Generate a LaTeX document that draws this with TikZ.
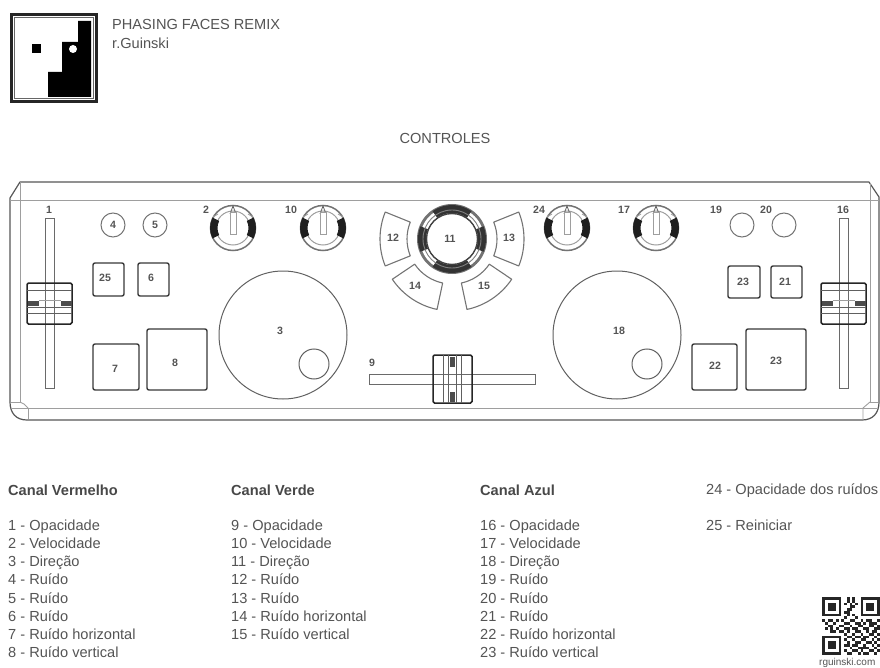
\documentclass[tikz,border=0pt]{standalone}
\usepackage{fontspec}
\setmainfont{Liberation Sans}
\definecolor{ink}{gray}{0.22}
\definecolor{txt}{gray}{0.33}
\definecolor{hair}{gray}{0.62}
\tikzset{
  panelline/.style={draw=ink!85,line width=1.2pt},
  hairline/.style={draw=hair,line width=.9pt},
  part/.style={draw=ink!80,line width=1pt},
  btnbox/.style={draw=ink,line width=1.4pt,rounded corners=2pt},
  num/.style={font=\fontsize{10.6}{12}\selectfont\bfseries,text=txt,inner sep=0pt},
  legend/.style={font=\fontsize{14.6}{16}\selectfont,text=txt,inner sep=0pt,anchor=base west},
  legendh/.style={font=\fontsize{14.6}{16}\selectfont\bfseries,text=txt!85!black,inner sep=0pt,anchor=base west},
  qr/.style={fill=black!85,draw=none}
}
\newcommand{\knobpart}[3]{% x y name
  \begin{scope}[shift={(#1,#2)}]
    \draw[black!55,line width=1.5pt] (0,0) circle (22.5);
    \draw[hair,line width=1pt] (0,0) circle (17);
    \fill[black!88] (153:15.5) arc[start angle=153,end angle=207,radius=15.5] -- (207:23) arc[start angle=207,end angle=153,radius=23] -- cycle;
    \fill[black!88] (-27:15.5) arc[start angle=-27,end angle=27,radius=15.5] -- (27:23) arc[start angle=27,end angle=-27,radius=23] -- cycle;
    \draw[part,line width=.8pt] (-3,-14) -- (0,-22) -- (3,-14);
    \draw[hair,fill=white,line width=1pt] (-3,-15) rectangle (3,7);
    \draw[hair,line width=.9pt] (-15,-14) -- (-20,-11);
    \draw[hair,line width=.9pt] (15,-14) -- (20,-11);
    \node[inner sep=0pt,minimum size=0pt] (#3) at (0,0) {};
  \end{scope}}
\newcommand{\sliderpart}[3]{% x center, name, label
  \draw[hairline,draw=ink!75] (#1-4.5,218) rectangle (#1+4.5,388);
  \begin{scope}[shift={(#1,0)}]
    \draw[draw=black!85,line width=1.5pt,rounded corners=1.5pt] (-22.5,283) rectangle (22.5,324);
    \draw[part] (-22.5,290) -- (22.5,290);
    \draw[part] (-22.5,307) -- (22.5,307);
    \draw[part] (-22.5,313) -- (22.5,313);
    \fill[black!70] (-22,301) rectangle (-11,306);
    \fill[black!70] (11,301) rectangle (22,306);
    \draw[hairline] (-11,300) -- (11,300);
    \node[num] (#2) at (-.5,210) {#3};
  \end{scope}}
\newcommand{\sectorpart}[2]{% start, end
  \draw[hairline,draw=ink!70,line width=1.1pt,line join=round,shift={(452,239)}] (#1:45) arc[start angle=#1,end angle=#2,radius=45] -- (#2:72) arc[start angle=#2,end angle=#1,radius=72] -- cycle;}
\begin{document}
\begin{tikzpicture}[x=1pt,y=1pt,yscale=-1]
\useasboundingbox (0,0) rectangle (880,668);
% logo
\draw[black!85,line width=2.2pt] (11.5,14.5) rectangle (96.5,101.5);
\draw[black!60,line width=.7pt] (14.5,17.5) rectangle (93.5,98.5);
\fill[black] (78,21) -- (91,21) -- (91,97) -- (48,97) -- (48,72) -- (62,72) -- (62,42) -- (78,42) -- cycle;
\fill[black] (32,44) rectangle (41,53);
\fill[white] (73,49) circle (4);
\node[legend] (title) at (112,30) {PHASING FACES REMIX};
\node[legend] (author) at (112,49) {r.Guinski};
\node[font=\fontsize{14.6}{16}\selectfont,text=txt,inner sep=0pt] (ctl) at (445,138) {CONTROLES};
% panel
\draw[panelline,line join=round] (20,182) -- (869,182) -- (879,197) -- (879,402) .. controls (879,413) and (873,420) .. (862,420) -- (27,420) .. controls (16,420) and (10,413) .. (10,402) -- (10,198) -- cycle;
\draw[hairline] (10,200) -- (879,200);
\draw[hairline] (12,408) -- (877,408);
\draw[hairline] (20,182) -- (20,402) -- (11,402);
\draw[hairline] (20,402) .. controls (23,403) and (26,405) .. (28,408);
\draw[hairline] (28,408) -- (28,419);
\draw[hairline] (870,183) -- (870,402);
\draw[hairline] (870,402) .. controls (868,404) and (865,406) .. (863,408) -- (863,419);
\draw[hairline] (870,402) -- (878,402);
% sliders
\sliderpart{49.5}{n1}{1}
\sliderpart{843.5}{n16}{16}
% top row circles
\foreach \n/\x in {c4/113,c5/155,c19/742,c20/784}{\draw[part,draw=ink!70] (\x,225) circle (12);}
\node[num] (n4) at (113,225) {4};
\node[num] (n5) at (155,225) {5};
\node[num] (n19) at (716,210) {19};
\node[num] (n20) at (766,210) {20};
% knobs
\knobpart{233}{228}{k2}
\knobpart{323}{228}{k10}
\knobpart{567}{228}{k24}
\knobpart{656}{228}{k17}
\node[num] (n2) at (206,210) {2};
\node[num] (n10) at (291,210) {10};
\node[num] (n24) at (539,210) {24};
\node[num] (n17) at (624,210) {17};
% buttons
\draw[btnbox] (93,263) rectangle (124,296);
\draw[btnbox] (138,263) rectangle (169,296);
\draw[btnbox] (93,344) rectangle (139,390);
\draw[btnbox] (147,329) rectangle (207,390);
\draw[btnbox] (728,266) rectangle (760,298);
\draw[btnbox] (771,266) rectangle (802,298);
\draw[btnbox] (692,344) rectangle (737,390);
\draw[btnbox] (746,329) rectangle (806,390);
\node[num] (n25) at (105,278) {25};
\node[num] (n6) at (151,278) {6};
\node[num] (n7) at (115,369) {7};
\node[num] (n8) at (175,363) {8};
\node[num] (n23a) at (743,282) {23};
\node[num] (n21) at (785,282) {21};
\node[num] (n22) at (715,366) {22};
\node[num] (n23b) at (776,361) {23};
% jog wheels
\draw[part] (283,335) circle (64);
\draw[part] (314,364) circle (15);
\node[num] (n3) at (280,331) {3};
\draw[part] (617,335) circle (64);
\draw[part] (647,364) circle (15);
\node[num] (n18) at (619,331) {18};
% central knob
\begin{scope}[shift={(452,239)}]
  \fill[black!55] (0,0) circle (35);
  \fill[white] (0,0) circle (32);
  \foreach \a/\b in {235/305,55/125,158/202,-22/22}{
    \fill[black!80] (\a:26) arc[start angle=\a,end angle=\b,radius=26] -- (\b:34) arc[start angle=\b,end angle=\a,radius=34] -- cycle;}
  \draw[black!75,line width=1.4pt] (0,0) circle (25.5);
  \draw[black!50,line width=.9pt] (0,0) circle (29);
\end{scope}
\node[num] (n11) at (450,239) {11};
% sectors
\sectorpart{158}{202}
\sectorpart{-22}{22}
\sectorpart{102}{146}
\sectorpart{34}{78}
\node[num] (n12) at (393,238) {12};
\node[num] (n13) at (509,238) {13};
\node[num] (n14) at (415,286) {14};
\node[num] (n15) at (484,286) {15};
% horizontal slider
\draw[hairline,draw=ink!75] (369,374) rectangle (535,384);
\draw[draw=black!85,line width=1.5pt,rounded corners=1.5pt] (433,355) rectangle (472,403);
\foreach \x in {443,448,456,461}{\draw[part] (\x,355) -- (\x,403);}
\fill[black!70] (450,357) rectangle (455,367);
\fill[black!70] (450,392) rectangle (455,402);
\node[num] (n9) at (372,363) {9};
% legend
\node[legendh] (h1) at (8,495) {Canal Vermelho};
\node[legendh] (h2) at (231,495) {Canal Verde};
\node[legendh] (h3) at (480,495) {Canal Azul};
\node[legend] (l24) at (706,494.5) {24 - Opacidade dos ruídos};
\node[legend] (l25) at (706,530) {25 - Reiniciar};
\foreach \t [count=\i from 0] in {1 - Opacidade,2 - Velocidade,3 - Direção,4 - Ruído,5 - Ruído,6 - Ruído,7 - Ruído horizontal,8 - Ruído vertical}{
  \node[legend] (a\i) at (8,530+18.25*\i) {\t};}
\foreach \t [count=\i from 0] in {9 - Opacidade,10 - Velocidade,11 - Direção,12 - Ruído,13 - Ruído,14 - Ruído horizontal,15 - Ruído vertical}{
  \node[legend] (b\i) at (231,530+18.25*\i) {\t};}
\foreach \t [count=\i from 0] in {16 - Opacidade,17 - Velocidade,18 - Direção,19 - Ruído,20 - Ruído,21 - Ruído,22 - Ruído horizontal,23 - Ruído vertical}{
  \node[legend] (c\i) at (480,530+18.25*\i) {\t};}
% QR code
\begin{scope}[shift={(822,597)},x=2.76pt,y=2.76pt]
  \foreach \cx/\cy in {0/0,14/0,0/14}{
    \fill[black!85] (\cx,\cy) rectangle ++(7,7);
    \fill[white] (\cx+1,\cy+1) rectangle ++(5,5);
    \fill[black!85] (\cx+2,\cy+2) rectangle ++(3,3);}
  \foreach \cx/\cy in {
    9/0,11/0,9/1,11/1,8/2,10/2,12/2,10/3,11/3,9/4,10/4,8/5,9/5,9/6,11/6,8/7,12/7,
    0/8,2/8,3/8,5/8,7/8,10/8,11/8,14/8,16/8,17/8,20/8,
    1/9,4/9,8/9,9/9,12/9,13/9,15/9,17/9,18/9,19/9,
    2/10,3/10,6/10,7/10,10/10,13/10,14/10,17/10,18/10,20/10,
    1/11,3/11,5/11,8/11,9/11,11/11,12/11,15/11,16/11,19/11,20/11,
    3/12,4/12,6/12,7/12,9/12,12/12,13/12,16/12,18/12,19/12,
    8/13,11/13,14/13,17/13,18/13,20/13,
    9/14,10/14,12/14,13/14,15/14,16/14,19/14,
    8/15,11/15,14/15,15/15,18/15,20/15,
    9/16,12/16,13/16,16/16,17/16,19/16,
    8/17,9/17,11/17,12/17,15/17,18/17,20/17,
    10/18,13/18,14/18,15/18,16/18,19/18,
    8/19,11/19,12/19,14/19,17/19,18/19,20/19,
    9/20,10/20,13/20,15/20,16/20,19/20}{
    \fill[black!85] (\cx,\cy) rectangle ++(1,1);}
\end{scope}
\node[font=\fontsize{10}{11}\selectfont,text=txt,inner sep=0pt,anchor=base west] (qrt) at (819,665.5) {rguinski.com};
\end{tikzpicture}
\end{document}
